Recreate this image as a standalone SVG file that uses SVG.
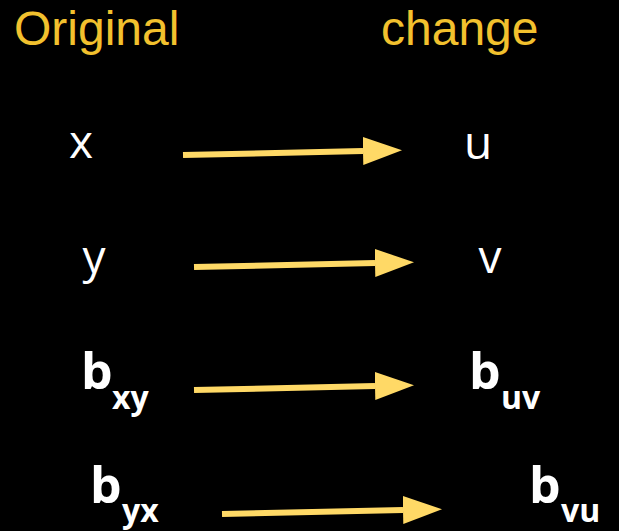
<svg xmlns="http://www.w3.org/2000/svg" width="619" height="531" viewBox="0 0 619 531">
<defs>
<style>
.title{font-family:"Liberation Sans",Arial,sans-serif;font-size:48px;fill:#F2C12E}
.var{font-family:"Open Sans","Liberation Sans",sans-serif;font-size:46px;fill:#ffffff;text-anchor:middle}
.b{font-family:"Open Sans","Liberation Sans",sans-serif;font-weight:bold;font-size:50px;fill:#ffffff}
.sub{font-family:"Open Sans","Liberation Sans",sans-serif;font-weight:bold;font-size:32px;fill:#ffffff}
.arrow{stroke:#FFD966;stroke-width:6;fill:none;marker-end:url(#head)}
</style>
<marker id="head" markerUnits="userSpaceOnUse" markerWidth="40" markerHeight="28" refX="0" refY="14" orient="auto">
<path d="M0,0 L39,14 L0,28 z" fill="#FFD966"/>
</marker>
</defs>
<rect width="619" height="531" fill="#000000"/>
<g id="title-original"><text class="title" x="14" y="45">Original</text></g>
<g id="title-change"><text class="title" x="381" y="45">change</text></g>
<g id="node-x"><text class="var" x="81" y="158">x</text></g>
<g id="node-u"><text class="var" x="478" y="159">u</text></g>
<g id="node-y"><text class="var" x="94" y="273">y</text></g>
<g id="node-v"><text class="var" x="490" y="273">v</text></g>
<g id="node-bxy"><text class="b" x="81" y="389">b</text><text class="sub" x="112" y="409">xy</text></g>
<g id="node-buv"><text class="b" x="469" y="389">b</text><text class="sub" x="501" y="409">uv</text></g>
<g id="node-byx"><text class="b" x="90" y="503">b</text><text class="sub" x="122" y="522">yx</text></g>
<g id="node-bvu"><text class="b" x="529" y="503">b</text><text class="sub" x="561" y="522">vu</text></g>
<g id="connectors">
<path class="arrow" d="M183,155 L363,151"/>
<path class="arrow" d="M194,267 L375,263"/>
<path class="arrow" d="M194,390 L375,386"/>
<path class="arrow" d="M222,514 L403,510"/>
</g>
</svg>
